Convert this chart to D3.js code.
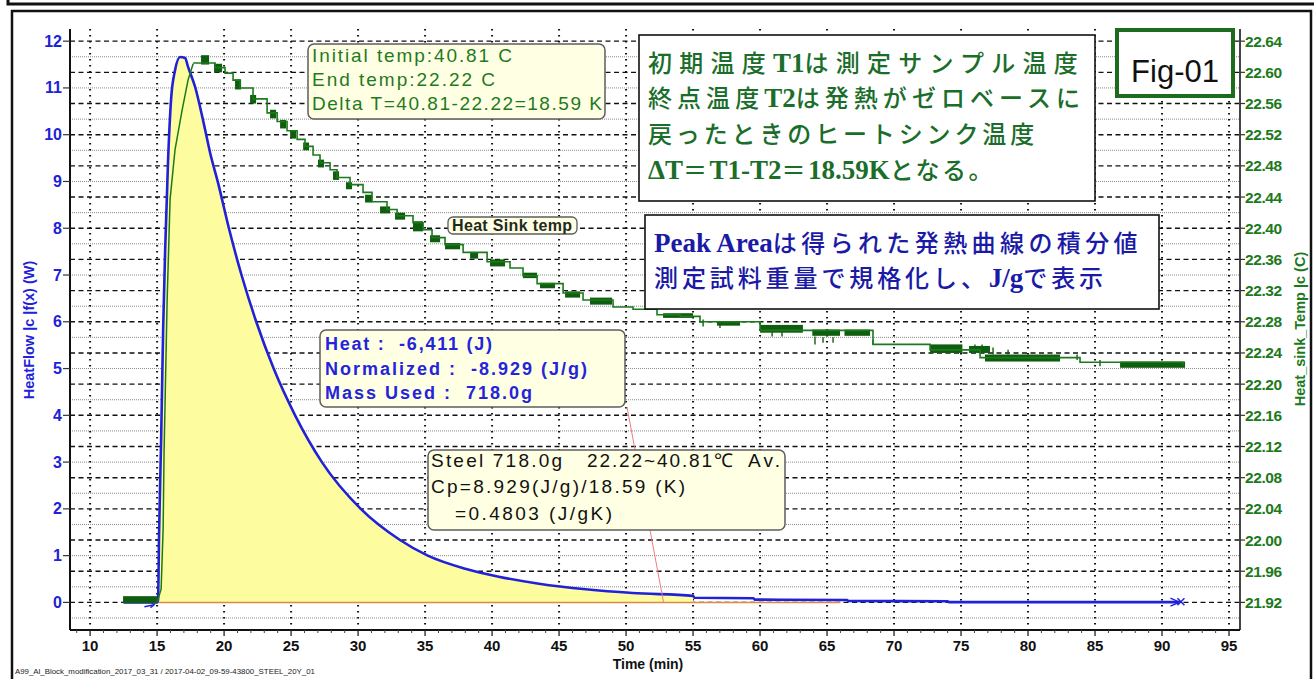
<!DOCTYPE html>
<html>
<head>
<meta charset="utf-8">
<script src="https://cdn.jsdelivr.net/npm/d3@7"></script>
<style>
  html, body { margin: 0; padding: 0; background: #fff; }
  svg { display: block; }
</style>
</head>
<body>
<svg id="chart" width="1314" height="679"></svg>
<script>
// ---- Heat flow (W) vs time (min) ----
const heatFlowTime  = [12.5, 15.0, 15.07, 15.15, 15.30, 15.45, 15.60, 15.82, 16.04, 16.34, 16.72, 17.09, 17.31, 17.84, 18.43, 18.96, 19.55, 20.36, 21.3, 22.4, 23.7, 25.3, 27.3, 30.2, 33.1, 35.2, 38.0, 40.5, 43.5, 47.0, 50.5, 55.0, 55.1, 59.5, 59.6, 66.5, 66.6, 74.0, 74.1, 91.3];
const heatFlowValue = [0, 0, 0.05, 1.5, 3.47, 5.82, 7.53, 9.46, 10.74, 11.38, 11.66, 11.64, 11.45, 11.02, 10.31, 9.61, 8.97, 8.0, 7.0, 6.0, 5.0, 4.0, 3.0, 2.0, 1.34, 1.0, 0.72, 0.55, 0.40, 0.28, 0.2, 0.14, 0.1, 0.09, 0.06, 0.05, 0.03, 0.025, 0.005, 0.005];

// integration window of the peak
const peakStart = 15.0;
const peakEnd = 55.0;
const baselineEnd = 66.0;
const leaderEnd = 52.8;

// ---- Heat sink temperature (C) ----
// sharp rise after the sample drop
const sinkRiseTime = [15.00, 15.30, 15.45, 15.52, 15.75, 15.97, 16.34, 16.87, 17.31, 17.69];
const sinkRiseTemp = [21.920, 21.937, 22.014, 22.112, 22.308, 22.437, 22.501, 22.552, 22.590, 22.611];
// quantised cooling, one level per step
const sinkStepTime = [17.69, 19.33, 20.07, 20.67, 21.19, 22.16, 23.21, 23.96, 24.70, 25.45, 26.04, 26.64, 27.16, 27.91, 28.43, 29.40, 30.37, 31.04, 32.16, 32.91, 34.10, 34.85, 35.52, 36.49, 37.84, 39.63, 41.34, 42.31, 43.36, 45.30, 46.79, 49.03, 50.52, 52.31, 54.03, 55.52, 60.00, 68.43, 72.69, 76.42, 83.88, 91.57];
const sinkStepTemp = [22.612, 22.606, 22.599, 22.590, 22.580, 22.566, 22.548, 22.537, 22.525, 22.514, 22.505, 22.494, 22.484, 22.475, 22.465, 22.456, 22.446, 22.434, 22.424, 22.416, 22.407, 22.398, 22.388, 22.379, 22.369, 22.357, 22.349, 22.339, 22.329, 22.317, 22.308, 22.299, 22.296, 22.289, 22.287, 22.280, 22.269, 22.251, 22.244, 22.234, 22.228, 22.225];
// stretches where the reading toggles between two levels: [t0, t1, low, high]
const sinkToggle = [
  [12.46, 15.00, 21.919, 21.928],
  [18.28, 18.88, 22.610, 22.622], [19.25, 19.85, 22.600, 22.611], [20.82, 21.27, 22.578, 22.591],
  [21.94, 22.39, 22.560, 22.571], [23.43, 23.88, 22.541, 22.552], [24.18, 24.63, 22.528, 22.539],
  [24.93, 25.37, 22.515, 22.526], [25.90, 26.34, 22.500, 22.510], [27.01, 27.46, 22.478, 22.488],
  [28.13, 28.58, 22.462, 22.473], [29.10, 29.55, 22.450, 22.459], [30.52, 31.04, 22.433, 22.443],
  [31.64, 32.39, 22.419, 22.428], [32.76, 33.51, 22.411, 22.420], [34.10, 34.85, 22.396, 22.409],
  [35.37, 36.12, 22.382, 22.391], [36.49, 37.61, 22.373, 22.381], [38.36, 38.96, 22.361, 22.369],
  [39.85, 40.97, 22.351, 22.360], [42.31, 43.36, 22.336, 22.343], [43.58, 44.70, 22.323, 22.330],
  [45.45, 46.57, 22.311, 22.319], [47.31, 48.96, 22.302, 22.311], [52.76, 55.00, 22.285, 22.291],
  [56.79, 58.51, 22.275, 22.280], [60.00, 63.20, 22.266, 22.276], [63.90, 65.97, 22.262, 22.270],
  [66.30, 68.21, 22.262, 22.270], [72.69, 75.10, 22.240, 22.251], [75.60, 77.16, 22.240, 22.249],
  [76.79, 82.39, 22.229, 22.238], [86.87, 91.72, 22.221, 22.229]
];
// single-sample spikes: [t, low, high]
const sinkSpikes = [
  [55.75, 22.274, 22.283], [57.01, 22.272, 22.279], [60.90, 22.261, 22.267], [61.64, 22.261, 22.267],
  [64.10, 22.251, 22.261], [64.70, 22.253, 22.260], [65.45, 22.253, 22.260], [68.43, 22.251, 22.257],
  [76.04, 22.241, 22.251], [76.57, 22.241, 22.251], [77.39, 22.238, 22.247], [78.51, 22.238, 22.244],
  [83.66, 22.231, 22.238], [85.37, 22.223, 22.231]
];

// ---- Axis ticks ----
const timeTicks = [10, 15, 20, 25, 30, 35, 40, 45, 50, 55, 60, 65, 70, 75, 80, 85, 90, 95];
const heatTicks = [0, 1, 2, 3, 4, 5, 6, 7, 8, 9, 10, 11, 12];
const sinkTickLabels = ["21.92", "21.96", "22.00", "22.04", "22.08", "22.12", "22.16", "22.20", "22.24", "22.28", "22.32", "22.36", "22.40", "22.44", "22.48", "22.52", "22.56", "22.60", "22.64"];

// ---- Scales ----
const plotL = 70, plotR = 1240, plotT = 29, plotB = 630;
const x = d3.scaleLinear().domain([8.5, 95.82]).range([plotL, plotR]);
const yHeat = d3.scaleLinear().domain([-0.59, 12.26]).range([plotB, plotT]);
const ySink = d3.scaleLinear().domain([21.8846, 22.6556]).range([plotB, plotT]);

const svg = d3.select("#chart");
const SANS = "'Liberation Sans', Arial, sans-serif";
const SERIF = "'Liberation Serif', 'Times New Roman', serif";
const CJK = "'Noto Sans CJK JP', sans-serif";
const BLUE = "#2121d8", GREEN = "#1c7a1c", DKGREEN = "#0f5e0f";

// ---- Page frame ----
svg.append("path").attr("d", "M8,0V4H1314").attr("fill", "none").attr("stroke", "#111").attr("stroke-width", 3);
svg.append("rect").attr("x", 12).attr("y", 11).attr("width", 1299).attr("height", 720)
  .attr("fill", "none").attr("stroke", "#111").attr("stroke-width", 2.5);

// ---- Grid ----
const grid = svg.append("g");
const sinkMajor = sinkTickLabels.map(Number);
const sinkMinor = sinkMajor.map(v => v - 0.02).concat([22.66]).filter(v => v <= ySink.domain()[1]);
grid.selectAll("line.minor").data(sinkMinor).join("line")
  .attr("x1", plotL).attr("x2", plotR)
  .attr("y1", d => ySink(d)).attr("y2", d => ySink(d))
  .attr("stroke", "#8a8a8a").attr("stroke-width", 1).attr("stroke-dasharray", "1,1");
grid.selectAll("line.major").data(sinkMajor).join("line")
  .attr("x1", plotL).attr("x2", plotR)
  .attr("y1", d => ySink(d)).attr("y2", d => ySink(d))
  .attr("stroke", "#111").attr("stroke-width", 1.4).attr("stroke-dasharray", "5,3.5");
grid.selectAll("line.vert").data(timeTicks).join("line")
  .attr("x1", d => x(d)).attr("x2", d => x(d))
  .attr("y1", plotT).attr("y2", plotB)
  .attr("stroke", "#111").attr("stroke-width", 2).attr("stroke-dasharray", "1.6,4.4");

// ---- Heat flow peak ----
const heat = heatFlowTime.map((t, i) => ({ t, v: heatFlowValue[i] }));
const peak = heat.filter(d => d.t >= peakStart && d.t <= peakEnd);

svg.append("path").datum(peak)
  .attr("d", d3.area().x(d => x(d.t)).y0(yHeat(0)).y1(d => yHeat(d.v)).curve(d3.curveMonotoneX))
  .attr("fill", "#fdfd9f");

svg.append("line")
  .attr("x1", x(peakStart)).attr("x2", x(baselineEnd))
  .attr("y1", yHeat(0)).attr("y2", yHeat(0))
  .attr("stroke", "#d98a4a").attr("stroke-width", 1.5);

svg.append("path").datum(heat)
  .attr("d", d3.line().x(d => x(d.t)).y(d => yHeat(d.v)).curve(d3.curveMonotoneX))
  .attr("fill", "none").attr("stroke", BLUE).attr("stroke-width", 2.6).attr("stroke-linejoin", "round");

// start / end markers of the heat flow trace
const endT = heatFlowTime[heatFlowTime.length - 1];
const ex = x(endT), ey = yHeat(heatFlowValue[heatFlowValue.length - 1]);
svg.append("path")
  .attr("d", `M${ex - 9},${ey - 4}L${ex},${ey}L${ex - 9},${ey + 4}M${ex - 2},${ey - 4}L${ex + 5},${ey + 3}M${ex - 2},${ey + 3}L${ex + 5},${ey - 4}`)
  .attr("fill", "none").attr("stroke", BLUE).attr("stroke-width", 1.5);
const sx = x(14.5), sy = yHeat(-0.05);
svg.append("path")
  .attr("d", `M${sx - 6},${sy + 2}L${sx + 4},${sy}M${sx},${sy - 3}L${sx + 4},${sy}L${sx},${sy + 3}`)
  .attr("fill", "none").attr("stroke", BLUE).attr("stroke-width", 1.3);

// ---- Heat sink temperature ----
const sinkG = svg.append("g");
sinkG.selectAll("rect").data(sinkToggle).join("rect")
  .attr("x", d => x(d[0])).attr("width", d => x(d[1]) - x(d[0]))
  .attr("y", d => ySink(d[3])).attr("height", d => ySink(d[2]) - ySink(d[3]))
  .attr("fill", DKGREEN);
sinkG.selectAll("line").data(sinkSpikes).join("line")
  .attr("x1", d => x(d[0])).attr("x2", d => x(d[0]))
  .attr("y1", d => ySink(d[1])).attr("y2", d => ySink(d[2]))
  .attr("stroke", DKGREEN).attr("stroke-width", 1.4);
const rise = sinkRiseTime.map((t, i) => ({ t, v: sinkRiseTemp[i] }));
const steps = sinkStepTime.map((t, i) => ({ t, v: sinkStepTemp[i] }));
sinkG.append("path").datum(rise)
  .attr("d", d3.line().x(d => x(d.t)).y(d => ySink(d.v)))
  .attr("fill", "none").attr("stroke", GREEN).attr("stroke-width", 1.5);
sinkG.append("path").datum(steps)
  .attr("d", d3.line().x(d => x(d.t)).y(d => ySink(d.v)).curve(d3.curveStepAfter))
  .attr("fill", "none").attr("stroke", GREEN).attr("stroke-width", 1.6);

// ---- Axes ----
const axes = svg.append("g").attr("font-family", SANS).attr("font-weight", "bold");
// left (heat flow)
axes.append("line").attr("x1", plotL).attr("x2", plotL).attr("y1", plotT).attr("y2", plotB).attr("stroke", "#111").attr("stroke-width", 2);
axes.selectAll("line.lt").data(heatTicks).join("line")
  .attr("x1", plotL - 7).attr("x2", plotL).attr("y1", d => yHeat(d)).attr("y2", d => yHeat(d))
  .attr("stroke", "#333").attr("stroke-width", 1.2);
axes.selectAll("text.lt").data(heatTicks).join("text")
  .attr("x", plotL - 8).attr("y", d => yHeat(d) + 5.5).attr("text-anchor", "end")
  .attr("font-size", 16).attr("fill", BLUE).text(d => d);
axes.append("text").attr("transform", "translate(34,330) rotate(-90)")
  .attr("text-anchor", "middle").attr("font-size", 14.5).attr("fill", BLUE)
  .text("HeatFlow |c |f(x) (W)");

// right (heat sink temperature)
axes.append("line").attr("x1", plotR).attr("x2", plotR).attr("y1", plotT).attr("y2", plotB).attr("stroke", "#444").attr("stroke-width", 2);
axes.selectAll("line.rt").data(sinkMajor).join("line")
  .attr("x1", plotR).attr("x2", plotR + 5).attr("y1", d => ySink(d)).attr("y2", d => ySink(d))
  .attr("stroke", "#333").attr("stroke-width", 1.2);
axes.selectAll("text.rt").data(sinkTickLabels).join("text")
  .attr("x", plotR + 5).attr("y", d => ySink(+d) + 5.5)
  .attr("font-size", 15.5).attr("fill", GREEN).attr("letter-spacing", -0.4).text(d => d);
axes.append("text").attr("transform", "translate(1305,329) rotate(-90)")
  .attr("text-anchor", "middle").attr("font-size", 14.5).attr("fill", GREEN)
  .text("Heat_sink_Temp |c (C)");

// bottom (time)
axes.append("line").attr("x1", plotL).attr("x2", plotR).attr("y1", plotB).attr("y2", plotB).attr("stroke", "#111").attr("stroke-width", 2);
const minorTime = d3.range(9, 96).filter(t => t % 5 !== 0);
axes.selectAll("line.bm").data(minorTime).join("line")
  .attr("x1", d => x(d)).attr("x2", d => x(d)).attr("y1", plotB).attr("y2", plotB + 3)
  .attr("stroke", "#444").attr("stroke-width", 1);
axes.selectAll("line.bt").data(timeTicks).join("line")
  .attr("x1", d => x(d)).attr("x2", d => x(d)).attr("y1", plotB).attr("y2", plotB + 6)
  .attr("stroke", "#222").attr("stroke-width", 1.3);
axes.selectAll("text.bt").data(timeTicks).join("text")
  .attr("x", d => x(d)).attr("y", 651).attr("text-anchor", "middle")
  .attr("font-size", 15).attr("fill", "#111").text(d => d);
axes.append("text").attr("x", 648).attr("y", 669).attr("text-anchor", "middle")
  .attr("font-size", 14).attr("fill", "#111").text("Time (min)");

// file caption
svg.append("text").attr("x", 15).attr("y", 674)
  .attr("font-family", SANS).attr("font-size", 7.5).attr("fill", "#222")
  .attr("textLength", 300).attr("lengthAdjust", "spacingAndGlyphs")
  .text("A99_Al_Block_modification_2017_03_31 / 2017-04-02_09-59-43800_STEEL_20Y_01");

// ---- Annotation helpers ----
function box(x0, y0, x1, y1, opts) {
  svg.append("rect").attr("x", x0).attr("y", y0).attr("width", x1 - x0).attr("height", y1 - y0)
    .attr("rx", opts.rx || 0).attr("fill", opts.fill).attr("stroke", opts.stroke)
    .attr("stroke-width", opts.sw);
}
// a single-font line, spread to the given width
function label(px, py, str, width, opts) {
  const t = svg.append("text").attr("x", px).attr("y", py)
    .attr("font-family", opts.family || SANS).attr("font-size", opts.size)
    .attr("font-weight", opts.weight || "normal").attr("fill", opts.fill)
    .style("white-space", "pre").text(str);
  if (width) {
    const natural = t.node().getComputedTextLength();
    const gaps = Math.max(1, str.length - 1);
    t.attr("letter-spacing", ((width - natural) / gaps).toFixed(3));
  }
  return t;
}
// a mixed Japanese / Latin line; only the Japanese glyphs get extra pitch
function mixedLine(px, py, parts, width, fill) {
  const t = svg.append("text").attr("x", px).attr("y", py).attr("fill", fill);
  const spans = parts.map(([s, latin]) =>
    t.append("tspan")
      .attr("font-family", latin ? SERIF : CJK)
      .attr("font-size", latin ? 27 : 24)
      .attr("font-weight", latin ? "bold" : "500").text(s));
  const natural = t.node().getComputedTextLength();
  const cjkCount = parts.filter(p => !p[1]).reduce((n, p) => n + p[0].length, 0);
  const ls = (width - natural) / cjkCount;
  spans.forEach((sp, i) => { if (!parts[i][1]) sp.attr("letter-spacing", ls.toFixed(3)); });
}

// leader from the heat readout to the end of integration
svg.append("line")
  .attr("x1", 627).attr("y1", 407).attr("x2", x(leaderEnd)).attr("y2", yHeat(0))
  .attr("stroke", "#ef7d7d").attr("stroke-width", 1);

// temperature readout
const note = { fill: "#ffffe3", stroke: "#5e5e5e", sw: 1.5, rx: 6 };
const TGREEN = "#1f7a22";
box(308, 44, 605, 119, note);
label(312, 62, "Initial temp:40.81 C", 200, { size: 19, fill: TGREEN });
label(312, 86, "End temp:22.22 C", 183, { size: 19, fill: TGREEN });
label(312, 110, "Delta T=40.81-22.22=18.59 K", 290, { size: 19, fill: TGREEN });

// series tag
box(448, 217, 577, 234, { fill: "#ffffe3", stroke: "#5e5e5e", sw: 1.3, rx: 5 });
label(452, 231, "Heat Sink temp", 120, { size: 16, weight: "bold", fill: "#1e2a1e" });

// heat readout
const HBLUE = "#2424dc";
box(320, 330, 625, 407, note);
label(325, 350, "Heat :  -6,411 (J)", 167, { size: 18, weight: "bold", fill: HBLUE });
label(325, 375, "Normalized :  -8.929 (J/g)", 262, { size: 18, weight: "bold", fill: HBLUE });
label(325, 399, "Mass Used :  718.0g", 207, { size: 18, weight: "bold", fill: HBLUE });

// specific heat result
box(428, 450, 785, 530, note);
label(431, 467, "Steel 718.0g", 131, { size: 19, fill: "#111" });
label(587, 467, "22.22~40.81℃", 146, { size: 19, fill: "#111" });
label(748, 467, "Av.", 32, { size: 19, fill: "#111" });
label(431, 493, "Cp=8.929(J/g)/18.59 (K)", 254, { size: 19, fill: "#111" });
label(455, 520, "=0.4803 (J/gK)", 157, { size: 19, fill: "#111" });

// explanatory notes (Japanese)
const JPGREEN = "#1a6e2a", JPBLUE = "#1a1aa6";
box(639, 35, 1095, 201, { fill: "#fff", stroke: "#111", sw: 1.6 });
mixedLine(648, 72, [["初期温度"], ["T1", true], ["は測定サンプル温度"]], 437, JPGREEN);
mixedLine(648, 107, [["終点温度"], ["T2", true], ["は発熱がゼロベースに"]], 437, JPGREEN);
mixedLine(648, 143, [["戻ったときのヒートシンク温度"]], 390, JPGREEN);
mixedLine(648, 179, [["ΔT", true], ["＝"], ["T1-T2", true], ["＝"], ["18.59K", true], ["となる。"]], 347, JPGREEN);

box(645, 215, 1159, 309, { fill: "#fff", stroke: "#111", sw: 1.6 });
mixedLine(654, 252, [["Peak Area", true], ["は得られた発熱曲線の積分値"]], 488, JPBLUE);
mixedLine(654, 287, [["測定試料重量で規格化し、"], ["J/g", true], ["で表示"]], 453, JPBLUE);

// figure tag
box(1117, 30, 1233, 96, { fill: "#fff", stroke: "#1d6b1d", sw: 4 });
svg.append("text").attr("x", 1175).attr("y", 82).attr("text-anchor", "middle")
  .attr("font-family", SANS).attr("font-size", 31).attr("fill", "#111").text("Fig-01");
</script>
</body>
</html>
